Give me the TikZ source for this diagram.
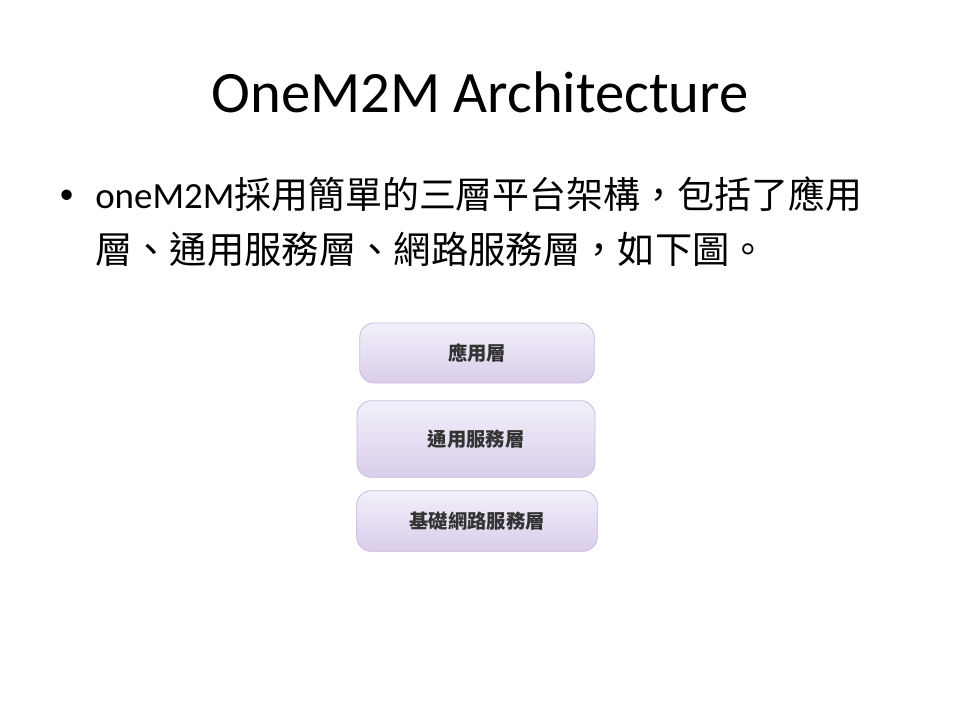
\documentclass[tikz,border=0pt]{standalone}
\usepackage{fontspec}
\setmainfont{Carlito}
\newfontfamily\cjk{Noto Sans CJK TC}
\usepackage{xcolor}
\definecolor{layertop}{HTML}{F3F0FA}
\definecolor{layerbot}{HTML}{D9CDEB}
\definecolor{layerline}{HTML}{C9BADF}
\definecolor{layertext}{HTML}{333333}

\begin{document}
\begin{tikzpicture}[x=0.75pt, y=-0.75pt]
\tikzset{layer/.style={rounded corners=11pt, draw=layerline, line width=0.6pt,
    top color=layertop, bottom color=layerbot, text=layertext,
    font=\cjk\bfseries\fontsize{14.5pt}{16pt}\selectfont, inner sep=0pt}}
\tikzset{slidetext/.style={font=\fontsize{28pt}{34pt}\selectfont, anchor=west, inner sep=0pt}}
    \useasboundingbox (0,0) rectangle (960,720);

    \node[font=\fontsize{44pt}{50pt}\selectfont] (title) at (480,92) {OneM2M Architecture};

    \node[slidetext, font=\fontsize{22pt}{26pt}\selectfont] (dot) at (59,197) {\textbullet};
    \node[slidetext, font=\fontsize{27.7pt}{34pt}\selectfont] (lineA) at (95,194) {oneM2M{\cjk 採用簡單的三層平台架構，包括了應用}};
    \node[slidetext] (lineB) at (95,249) {\cjk 層、通用服務層、網路服務層，如下圖。};
% % % % % % % % % % % % % % % % % % %
    \node[layer, minimum width=176pt, minimum height=45pt] (app) at (477,353) {應用層};
    \node[layer, minimum width=178.5pt, minimum height=57.5pt] (cse) at (476,439) {通用服務層};
    \node[layer, minimum width=180.5pt, minimum height=45.5pt] (nse) at (477,521) {基礎網路服務層};
\end{tikzpicture}
\end{document}
